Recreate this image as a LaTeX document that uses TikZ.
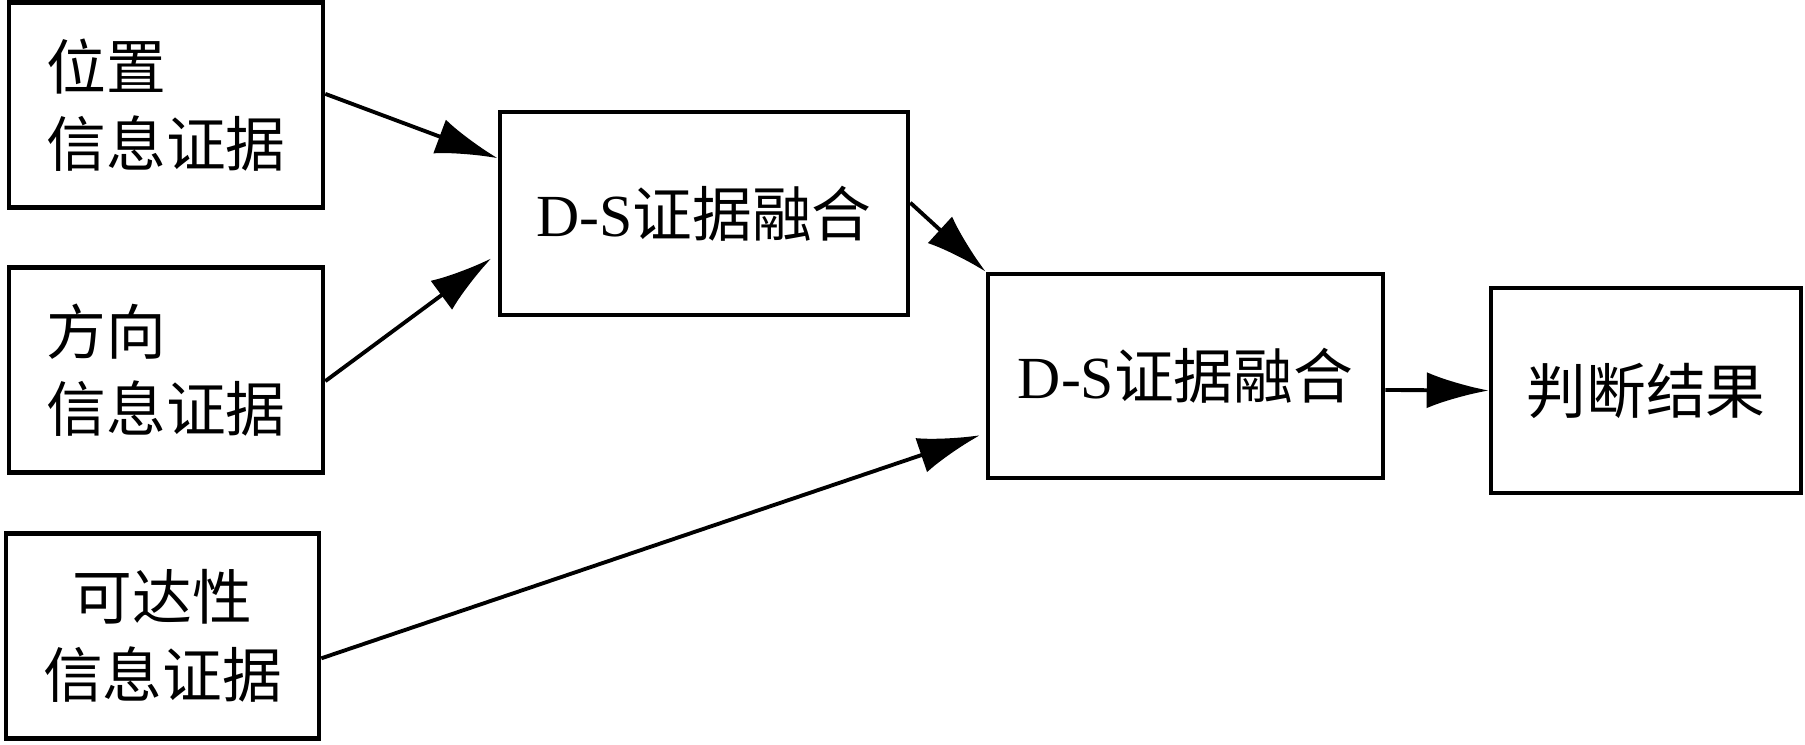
\documentclass[tikz,border=0pt]{standalone}
\usepackage{fontspec}
\setmainfont{Liberation Serif}
\newfontfamily\cjk{Noto Sans CJK SC}
\usetikzlibrary{arrows.meta}
\tikzset{
	block/.style={draw, line width=1.3pt, inner sep=0pt, minimum width=3.14cm, minimum height=2.05cm, font=\cjk\fontsize{17pt}{22pt}\selectfont},
	link/.style={-{Latex[length=6.2mm, width=3.6mm]}, line width=1.1pt},
}

\begin{document}
\begin{tikzpicture}
	\useasboundingbox (0,0) rectangle (18.05,-7.44);

	\node[block, align=left] (pos) at (1.66,-1.05) {位置\\信息证据};
	\node[block, align=left] (dir) at (1.66,-3.70) {方向\\信息证据};
	\node[block, align=center, minimum width=3.13cm] (reach) at (1.625,-6.36) {可达性\\信息证据};
	\node[block, minimum width=4.08cm, minimum height=2.03cm] (fuseA) at (7.04,-2.135) {{\rmfamily D-S}证据融合};
	\node[block, minimum width=3.95cm, minimum height=2.04cm] (fuseB) at (11.855,-3.76) {{\rmfamily D-S}证据融合};
	\node[block, minimum width=3.10cm] (result) at (16.46,-3.905) {判断结果};

	\draw[link] (pos.4) -- (fuseA.165);
	\draw[link, shorten >=0.8mm] (dir.-4) -- (fuseA.191);
	\draw[link] (fuseA.3) -- (fuseB.north west);
	\draw[link, shorten >=0.6mm] (reach.-8) -- (fuseB.196);
	\draw[link] (fuseB.-4) -- (result.west);
\end{tikzpicture}
\end{document}
